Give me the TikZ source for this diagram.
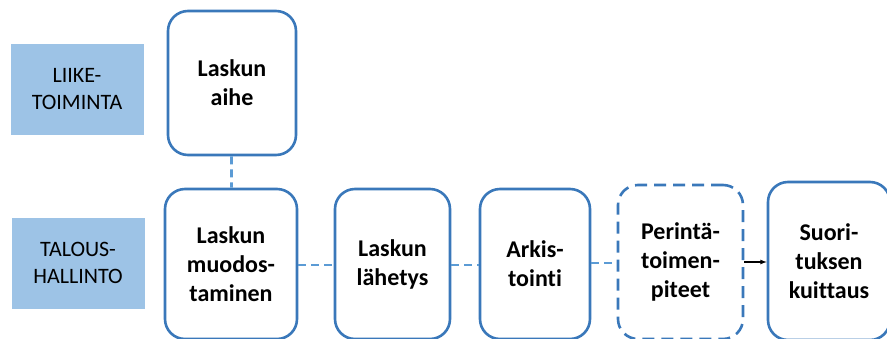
\documentclass[tikz,border=0pt]{standalone}
\usepackage{fontspec}
\setmainfont{Carlito}[Ligatures=NoCommon]
\usetikzlibrary{arrows.meta}

\definecolor{frameblue}{HTML}{3A78BA}
\definecolor{levelblue}{HTML}{9DC3E6}
\definecolor{linkblue}{HTML}{5B9BD5}

\tikzset{
  levelbox/.style={fill=levelblue,minimum width=133pt,minimum height=91pt,
    align=center,font=\fontsize{22}{27}\selectfont,inner sep=0pt},
  stepbox/.style={draw=frameblue,line width=2.6pt,rounded corners=20pt,fill=white,
    align=center,font=\fontsize{24}{29}\selectfont\bfseries,inner sep=0pt},
  link/.style={draw=linkblue,line width=2.8pt,dash pattern=on 8pt off 5pt}
}

\begin{document}
\begin{tikzpicture}[x=1pt,y=-1pt,>=latex]
        \useasboundingbox (0,0) rectangle (887,338);
        % tasot
        \node[levelbox] (liike) at (77,89) {LIIKE-\\TOIMINTA};
        \node[levelbox] (talous) at (78,263) {TALOUS-\\HALLINTO};
        % vaiheet
        \node[stepbox,minimum width=128pt,minimum height=144pt] (aihe) at (232,83) {Laskun\\aihe};
        \node[stepbox,minimum width=132pt,minimum height=150pt] (muodos) at (231,264) {Laskun\\muodos-\\taminen};
        \node[stepbox,minimum width=115pt,minimum height=150pt] (lahetys) at (392.5,264) {Laskun\\lähetys};
        \node[stepbox,minimum width=110pt,minimum height=150pt] (arkisto) at (535,264) {Arkis-\\tointi};
        \node[stepbox,dash pattern=on 12pt off 7pt,minimum width=125pt,minimum height=154pt] (perinta) at (680.5,262) {Perintä-\\toimen-\\piteet};
        \node[stepbox,minimum width=122pt,minimum height=158pt] (suoritus) at (829,261) {Suori-\\tuksen\\kuittaus};
        % yhteydet
        \draw[link] (aihe) -- (muodos);
        \draw[link] (muodos.east |- 0,265) -- (lahetys.west |- 0,265);
        \draw[link] (lahetys.east |- 0,265) -- (arkisto.west |- 0,265);
        \draw[link] (arkisto.east |- 0,263) -- (perinta.west |- 0,263);
        \draw[->,line width=1.2pt] (perinta.east |- 0,262) -- (suoritus.west |- 0,262);
\end{tikzpicture}
\end{document}
